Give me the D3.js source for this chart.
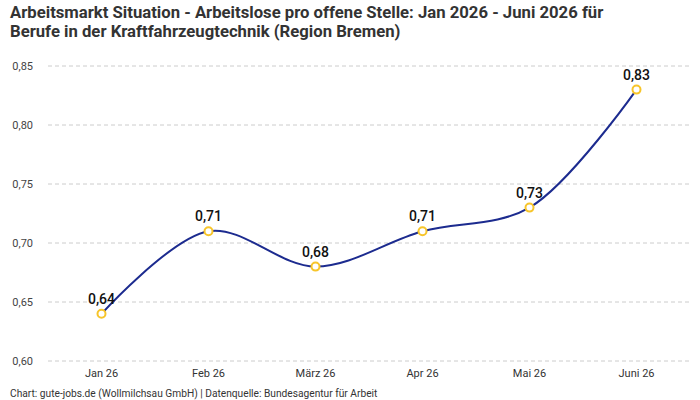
<!DOCTYPE html>
<html>
<head>
<meta charset="utf-8">
<script src="https://cdn.jsdelivr.net/npm/d3@7"></script>
<style>
  html, body { margin: 0; padding: 0; background: #fff; }
  svg { display: block; font-family: Roboto, "Noto Sans", sans-serif; }
</style>
</head>
<body>
<svg id="chart" width="700" height="400"></svg>
<script>
// Data
var months = ['Jan 26', 'Feb 26', 'März 26', 'Apr 26', 'Mai 26', 'Juni 26'];
var values = [0.64, 0.71, 0.68, 0.71, 0.73, 0.83];
var yTicks = [0.60, 0.65, 0.70, 0.75, 0.80, 0.85];

var titleLines = [
    'Arbeitsmarkt Situation - Arbeitslose pro offene Stelle: Jan 2026 - Juni 2026 für',
    'Berufe in der Kraftfahrzeugtechnik (Region Bremen)'
];
var footer = 'Chart: gute-jobs.de (Wollmilchsau GmbH) | Datenquelle: Bundesagentur für Arbeit';

var fmt = function(v) { return v.toFixed(2).replace('.', ','); };

var svg = d3.select('#chart');

// Title
var title = svg.append('g');
titleLines.forEach(function(t, i) {
    title.append('text')
        .attr('x', 10)
        .attr('y', 18 + i * 19)
        .attr('font-size', 16.7)
        .attr('font-weight', 'bold')
        .attr('fill', '#333')
        .text(t);
});

var x = d3.scaleBand().domain(months).range([48, 690]).padding(0);
var y = d3.scaleLinear().domain([0.60, 0.85]).range([361, 66]);

// Grid
svg.append('g')
    .selectAll('line')
    .data(yTicks)
    .join('line')
    .attr('x1', 48)
    .attr('x2', 690)
    .attr('y1', function(d) { return y(d); })
    .attr('y2', function(d) { return y(d); })
    .attr('stroke', '#ccc')
    .attr('stroke-dasharray', '4,3');

// Y axis labels
var yAxis = svg.append('g')
    .attr('transform', 'translate(33,0)')
    .call(d3.axisLeft(y).tickValues(yTicks).tickFormat(fmt).tickSize(0).tickPadding(0));
yAxis.select('.domain').remove();
yAxis.selectAll('text')
    .attr('font-size', 11)
    .attr('fill', '#444')
    .attr('font-family', 'Roboto, "Noto Sans", sans-serif');

// X axis labels
var xAxis = svg.append('g')
    .attr('transform', 'translate(0,369)')
    .call(d3.axisBottom(x).tickSize(0).tickPadding(0));
xAxis.select('.domain').remove();
xAxis.selectAll('text')
    .attr('font-size', 11)
    .attr('fill', '#333')
    .attr('font-family', 'Roboto, "Noto Sans", sans-serif');

var cx = function(d, i) { return x(months[i]) + x.bandwidth() / 2; };

// Line
var line = d3.line()
    .x(function(d, i) { return cx(d, i); })
    .y(function(d) { return y(d); })
    .curve(d3.curveCatmullRom.alpha(0.5));

svg.append('path')
    .datum(values)
    .attr('d', line)
    .attr('fill', 'none')
    .attr('stroke', '#1c2b8f')
    .attr('stroke-width', 2);

// Points
svg.append('g')
    .selectAll('circle')
    .data(values)
    .join('circle')
    .attr('cx', cx)
    .attr('cy', function(d) { return y(d); })
    .attr('r', 4)
    .attr('fill', '#fff')
    .attr('stroke', '#f7c52a')
    .attr('stroke-width', 2);

// Value labels
svg.append('g')
    .selectAll('text')
    .data(values)
    .join('text')
    .attr('x', cx)
    .attr('y', function(d) { return y(d) - 10; })
    .attr('text-anchor', 'middle')
    .attr('font-size', 14)
    .attr('font-weight', 500)
    .attr('fill', '#111')
    .text(fmt);

// Footer
svg.append('text')
    .attr('x', 10)
    .attr('y', 397)
    .attr('font-size', 10.2)
    .attr('fill', '#333')
    .text(footer);
</script>
</body>
</html>
